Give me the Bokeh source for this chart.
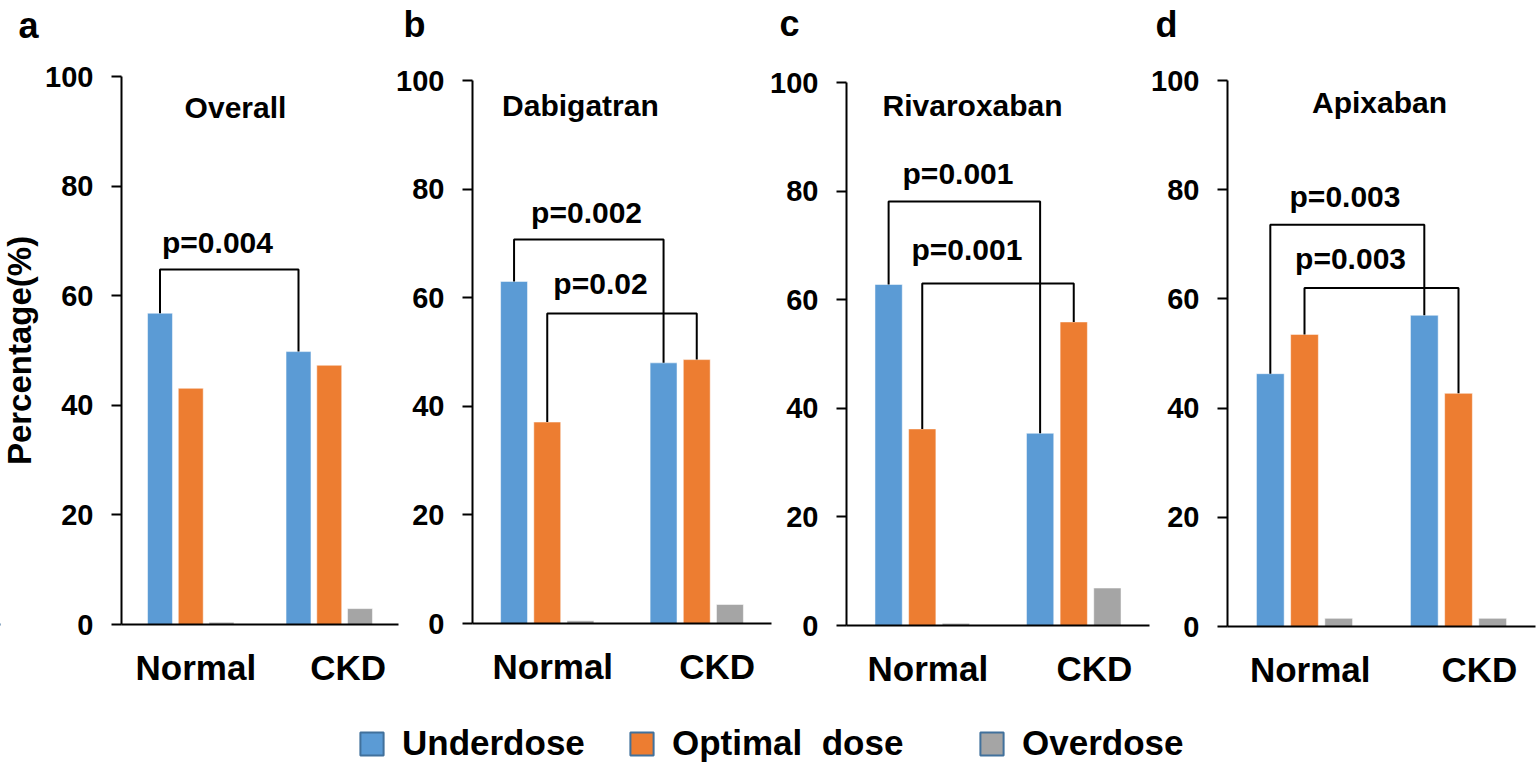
from bokeh.plotting import figure
from bokeh.models import (ColumnDataSource, Range1d, FixedTicker, LinearAxis,
                          Label, Legend, LegendItem)
from bokeh.embed import file_html
from bokeh.resources import INLINE

# ---------------- data ----------------
groups = ["Normal", "CKD"]
series = ["Underdose", "Optimal  dose", "Overdose"]
colors = ["#5B9BD5", "#ED7D31", "#A5A5A5"]

panel_letters = ["a", "b", "c", "d"]
panel_titles = ["Overall", "Dabigatran", "Rivaroxaban", "Apixaban"]

overall_under = [56.8, 49.8]
overall_optimal = [43.1, 47.3]
overall_over = [0.4, 2.9]

dabigatran_under = [63.0, 48.0]
dabigatran_optimal = [37.1, 48.6]
dabigatran_over = [0.5, 3.5]

rivaroxaban_under = [62.8, 35.4]
rivaroxaban_optimal = [36.2, 55.9]
rivaroxaban_over = [0.4, 6.9]

apixaban_under = [46.3, 57.0]
apixaban_optimal = [53.5, 42.7]
apixaban_over = [1.5, 1.5]

# brackets: (series index compared between Normal and CKD, bracket height, p text)
overall_brackets = [(0, 64.8, "p=0.004")]
dabigatran_brackets = [(0, 70.7, "p=0.002"), (1, 57.1, "p=0.02")]
rivaroxaban_brackets = [(0, 78.1, "p=0.001"), (1, 63.0, "p=0.001")]
apixaban_brackets = [(0, 73.6, "p=0.003"), (1, 62.0, "p=0.003")]

y_ticks = [0, 20, 40, 60, 80, 100]

panels_data = [
    (overall_under, overall_optimal, overall_over, overall_brackets),
    (dabigatran_under, dabigatran_optimal, dabigatran_over, dabigatran_brackets),
    (rivaroxaban_under, rivaroxaban_optimal, rivaroxaban_over, rivaroxaban_brackets),
    (apixaban_under, apixaban_optimal, apixaban_over, apixaban_brackets),
]

# ---------------- layout (positions / sizes, page pixels) ----------------
FONT = "Liberation Sans"
W, H = 1536, 768            # canvas size; canvas sits at page (0, 0)
ORIGIN_X, ORIGIN_Y = 0, 0
offsets = [-0.222, 0.0, 0.222]      # bar offsets within a group (group width = 1)
bar_w = 0.18
label_shift = [0.037, 0.136]        # category label offsets from group centre
# per panel: page x of value 0, px per x unit, page y of value 0, px per y unit
panel_geom = [
    (121, 138.5, 624, 5.48),
    (472, 149.5, 623, 5.43),
    (846, 151.5, 625, 5.43),
    (1227, 154.0, 626, 5.46),
]
letter_pos = [(-0.671, 109.3), (-0.388, 110.3), (-0.376, 110.9), (-0.396, 110.3)]
title_pos = [(0.823, 94.3), (0.722, 95.4), (0.832, 95.7), (0.987, 95.9)]
ptext_pos = [
    [(0.693, 69.7)],
    [(0.763, 75.7), (0.856, 62.6)],
    [(0.736, 83.3), (0.795, 69.2)],
    [(0.763, 78.7), (0.799, 67.4)],
]
legend_x = [357, 627, 977]
legend_y = 5


def panel_ranges(px0, sx, py0, sy):
    xs = -(px0 - ORIGIN_X) / sx
    ys = -((ORIGIN_Y + H) - py0) / sy
    return Range1d(xs, xs + W / sx), Range1d(ys, ys + H / sy)


names = ["a", "b", "c", "d"]
ranges = [panel_ranges(*g) for g in panel_geom]

p = figure(width=W, height=H, x_range=ranges[0][0], y_range=ranges[0][1],
           x_axis_location=None, y_axis_location=None, min_border=0,
           output_backend="svg", toolbar_location=None,
           background_fill_color="white", border_fill_color="white")
p.outline_line_color = None
p.grid.visible = False
p.extra_x_ranges = {n: ranges[i][0] for i, n in enumerate(names)}
p.extra_y_ranges = {n: ranges[i][1] for i, n in enumerate(names)}

bold = dict(text_font=FONT, text_font_style="bold", text_color="black")

for i, (under, optimal, over, brackets) in enumerate(panels_data):
    n = names[i]
    rn = dict(x_range_name=n, y_range_name=n)
    centers = [groups.index(g) + 0.5 for g in groups]
    values = [under, optimal, over]

    for k in range(3):
        src = ColumnDataSource(dict(x=[c + offsets[k] for c in centers], top=values[k]))
        p.vbar(x="x", top="top", width=bar_w, source=src, fill_color=colors[k],
               line_color="white", line_alpha=0.5, line_width=1, **rn)

    for j, (s, h, txt) in enumerate(brackets):
        xl = groups.index("Normal") + 0.5 + offsets[s]
        xr = groups.index("CKD") + 0.5 + offsets[s]
        p.line(x=[xl, xl, xr, xr], y=[values[s][0], h, h, values[s][1]],
               line_color="black", line_width=2, **rn)
        tx, ty = ptext_pos[i][j]
        p.add_layout(Label(x=tx, y=ty, text=txt, text_align="center",
                           text_baseline="alphabetic", text_font_size="30px",
                           **bold, **rn))

    tx, ty = title_pos[i]
    p.add_layout(Label(x=tx, y=ty, text=panel_titles[i], text_align="center",
                       text_baseline="alphabetic", text_font_size="30px", **bold, **rn))
    lx, ly = letter_pos[i]
    p.add_layout(Label(x=lx, y=ly, text=panel_letters[i], text_align="center",
                       text_baseline="alphabetic", text_font_size="36px", **bold, **rn))

    # y axis
    ya = LinearAxis(fixed_location=0, bounds=(0, 100), ticker=FixedTicker(ticks=y_ticks), **rn)
    ya.axis_line_width = 2
    ya.axis_line_color = "black"
    ya.major_tick_line_width = 2
    ya.major_tick_line_color = "black"
    ya.major_tick_out = 10
    ya.major_tick_in = 0
    ya.minor_tick_line_color = None
    ya.major_label_standoff = 18
    ya.major_label_text_font = FONT
    ya.major_label_text_font_size = "29px"
    ya.major_label_text_font_style = "bold"
    ya.major_label_text_color = "black"
    if i == 0:
        ya.axis_label = "Percentage(%)"
        ya.axis_label_text_font = FONT
        ya.axis_label_text_font_size = "33px"
        ya.axis_label_text_font_style = "bold"
        ya.axis_label_text_color = "black"
        ya.axis_label_standoff = 4
    p.add_layout(ya, "left")

    # x axis with group names
    tick_pos = [centers[g] + label_shift[g] for g in range(len(groups))]
    xa = LinearAxis(fixed_location=0, bounds=(0, len(groups)),
                    ticker=FixedTicker(ticks=tick_pos), **rn)
    xa.major_label_overrides = {t: groups[g] for g, t in enumerate(tick_pos)}
    xa.axis_line_width = 2
    xa.axis_line_color = "black"
    xa.major_tick_line_color = None
    xa.minor_tick_line_color = None
    xa.major_label_standoff = 17
    xa.major_label_text_font = FONT
    xa.major_label_text_font_size = "35px"
    xa.major_label_text_font_style = "bold"
    xa.major_label_text_color = "black"
    p.add_layout(xa, "below")

# ---------------- legend ----------------
for k in range(3):
    r = p.vbar(x=[-100], top=[0], width=0.1, fill_color=colors[k],
               line_color="#41719C", line_width=2)
    lg = Legend(items=[LegendItem(label=series[k], renderers=[r])],
                location=(legend_x[k], legend_y), orientation="horizontal",
                glyph_width=29, glyph_height=29, label_standoff=16,
                label_height=29, label_text_line_height=1.0,
                padding=0, margin=0, border_line_color=None,
                background_fill_alpha=0,
                label_text_font=FONT, label_text_font_size="35px",
                label_text_font_style="bold", label_text_color="black")
    p.add_layout(lg, "center")

open("out.html", "w").write(file_html(p, INLINE))
